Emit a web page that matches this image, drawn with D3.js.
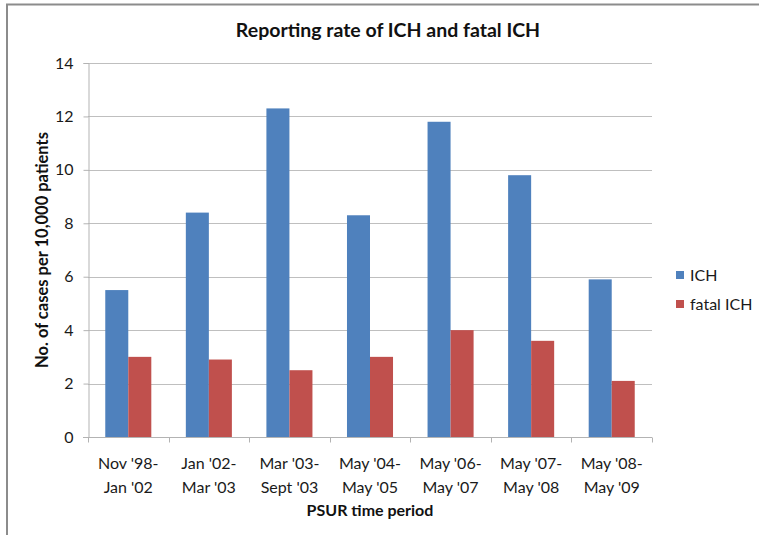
<!DOCTYPE html>
<html>
<head>
<meta charset="utf-8">
<script src="https://cdn.jsdelivr.net/npm/d3@7"></script>
<style>
  body { margin: 0; background: #fff; }
  svg { font-family: Lato, "Open Sans", sans-serif; }
</style>
</head>
<body>
<div id="chart"></div>
<script>
const periods = [
    ["Nov '98-", "Jan '02"],
    ["Jan '02-", "Mar '03"],
    ["Mar '03-", "Sept '03"],
    ["May '04-", "May '05"],
    ["May '06-", "May '07"],
    ["May '07-", "May '08"],
    ["May '08-", "May '09"]
];
const ichValues = [5.5, 8.4, 12.3, 8.3, 11.8, 9.8, 5.9];
const fatalValues = [3.0, 2.9, 2.5, 3.0, 4.0, 3.6, 2.1];
const seriesNames = ["ICH", "fatal ICH"];
const seriesColors = ["#4f81bd", "#c0504d"];
const yTicks = [0, 2, 4, 6, 8, 10, 12, 14];

const width = 759, height = 535;
const plot = { left: 88, right: 652, top: 63, bottom: 437 };

const svg = d3.select('#chart')
    .append('svg')
    .attr('width', width)
    .attr('height', height);

// outer frame (only top and left edges visible in the picture)
svg.append('line').attr('x1', 6).attr('x2', width).attr('y1', 4.5).attr('y2', 4.5)
    .attr('stroke', '#8c8c8c').attr('stroke-width', 2);
svg.append('line').attr('x1', 7).attr('x2', 7).attr('y1', 4).attr('y2', height)
    .attr('stroke', '#8c8c8c').attr('stroke-width', 2);

const x = d3.scaleBand()
    .domain(d3.range(periods.length))
    .range([plot.left, plot.right]);

// Excel style gap width 150%: 0.75 bar of space on each side
const inner = d3.scaleBand()
    .domain(seriesNames)
    .range([0, x.bandwidth()])
    .paddingInner(0)
    .paddingOuter(0.75);

const y = d3.scaleLinear()
    .domain([0, 14])
    .range([plot.bottom, plot.top]);

// gridlines
svg.append('g')
    .selectAll('line')
    .data(yTicks.filter(d => d > 0))
    .enter()
    .append('line')
    .attr('x1', plot.left)
    .attr('x2', plot.right)
    .attr('y1', d => Math.round(y(d)) + 0.5)
    .attr('y2', d => Math.round(y(d)) + 0.5)
    .attr('stroke', '#bfbfbf')
    .attr('stroke-width', 1);

// bars
const rows = periods.map((p, i) => [ichValues[i], fatalValues[i]]);
const groups = svg.append('g')
    .selectAll('g')
    .data(rows)
    .enter()
    .append('g')
    .attr('transform', (d, i) => `translate(${x(i)},0)`);

groups.selectAll('rect')
    .data(d => d.map((v, j) => ({ v, name: seriesNames[j], color: seriesColors[j] })))
    .enter()
    .append('rect')
    .attr('x', d => inner(d.name))
    .attr('width', inner.bandwidth())
    .attr('y', d => y(d.v))
    .attr('height', d => y(0) - y(d.v))
    .attr('fill', d => d.color);

// y axis
const yAxis = svg.append('g')
    .attr('transform', `translate(${plot.left + 0.5},0)`)
    .call(d3.axisLeft(y).tickValues(yTicks).tickSize(5).tickPadding(10));
yAxis.select('.domain').attr('stroke', '#b3b3b3');
yAxis.selectAll('.tick line').attr('stroke', '#b3b3b3');
yAxis.selectAll('.tick text')
    .attr('font-size', 16)
    .attr('fill', '#1a1a1a')
    .attr('font-family', 'Lato, sans-serif');

// x axis
const xAxisG = svg.append('g')
    .attr('transform', `translate(0,${plot.bottom + 0.5})`);
xAxisG.append('line')
    .attr('x1', plot.left - 5).attr('x2', plot.right)
    .attr('stroke', '#b3b3b3');
xAxisG.selectAll('line.tk')
    .data(d3.range(periods.length + 1))
    .enter()
    .append('line')
    .attr('class', 'tk')
    .attr('x1', i => Math.round(i < periods.length ? x(i) : plot.right) + 0.5)
    .attr('x2', i => Math.round(i < periods.length ? x(i) : plot.right) + 0.5)
    .attr('y1', 0).attr('y2', 5)
    .attr('stroke', '#b3b3b3');

const labels = svg.append('g')
    .selectAll('text')
    .data(periods)
    .enter()
    .append('text')
    .attr('text-anchor', 'middle')
    .attr('font-size', 16)
    .attr('fill', '#1a1a1a')
    .attr('transform', (d, i) => `translate(${x(i) + x.bandwidth() / 2},0)`);
labels.selectAll('tspan')
    .data(d => d)
    .enter()
    .append('tspan')
    .attr('x', 0)
    .attr('y', (d, k) => 469 + k * 24)
    .text(d => d);

// titles
svg.append('text')
    .attr('x', 388).attr('y', 37)
    .attr('text-anchor', 'middle')
    .attr('font-size', 19.5)
    .attr('font-weight', 'bold')
    .attr('fill', '#111')
    .text('Reporting rate of ICH and fatal ICH');

svg.append('text')
    .attr('x', 370).attr('y', 516)
    .attr('text-anchor', 'middle')
    .attr('font-size', 16)
    .attr('font-weight', 'bold')
    .attr('fill', '#111')
    .text('PSUR time period');

svg.append('text')
    .attr('transform', `translate(48,${(plot.top + plot.bottom) / 2}) rotate(-90)`)
    .attr('text-anchor', 'middle')
    .attr('font-size', 16.5)
    .attr('font-weight', 'bold')
    .attr('fill', '#111')
    .text('No. of cases per 10,000 patients');

// legend
const legend = svg.append('g')
    .selectAll('g')
    .data(seriesNames)
    .enter()
    .append('g')
    .attr('transform', (d, i) => `translate(676,${271 + i * 29})`);
legend.append('rect')
    .attr('width', 8).attr('height', 8)
    .attr('fill', (d, i) => seriesColors[i]);
legend.append('text')
    .attr('x', 14).attr('y', 10)
    .attr('font-size', 16)
    .attr('fill', '#1a1a1a')
    .text(d => d);
</script>
</body>
</html>
